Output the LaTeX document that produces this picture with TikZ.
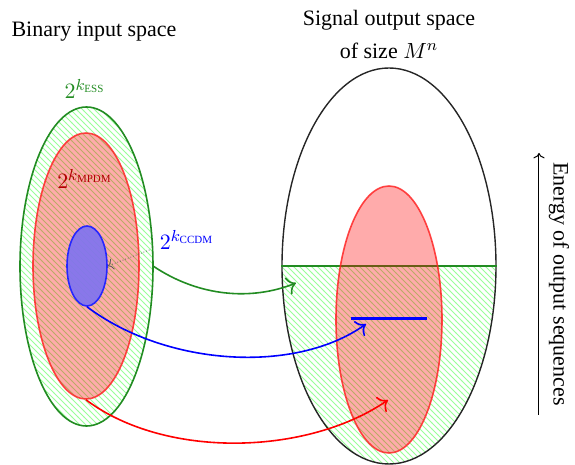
\documentclass[tikz,border=0pt]{standalone}
\usepackage{fontspec}
\setmainfont{Liberation Serif}
\usetikzlibrary{shapes.geometric,patterns,arrows.meta}
\definecolor{essgreen}{RGB}{34,140,34}
\definecolor{ccdmfill}{RGB}{128,116,240}
\begin{document}
\begin{tikzpicture}[x=0.5pt,y=-0.5pt,
  font=\fontsize{11}{13.5}\selectfont,
  hatch/.style={pattern=north west lines, pattern color=green!40},
  essbox/.style={ellipse, inner sep=0pt, draw=essgreen, line width=0.8pt, hatch},
  mpdmbox/.style={ellipse, inner sep=0pt, draw=red!85, line width=0.8pt, fill=red, fill opacity=0.33, draw opacity=0.85},
  ccdmbox/.style={ellipse, inner sep=0pt, draw=blue!85, line width=0.8pt, fill=ccdmfill, fill opacity=0.92},
  mapline/.style={line width=0.8pt, -{To[scale=1.3]}},
  lab/.style={inner sep=1pt}]
\useasboundingbox (0,0) rectangle (575,465);

% titles
\node (tin) at (94,32) {Binary input space};
\node[align=center] (tout) at (389,34) {Signal output space\\[3pt] of size $M^n$};

% left side
\node[essbox, minimum width=66.5pt, minimum height=159.5pt] (essL) at (86.5,266.5) {};
\node[mpdmbox, minimum width=53pt, minimum height=133pt] (mpdmL) at (86,266) {};
\node[ccdmbox, minimum width=20pt, minimum height=40pt] (ccdmL) at (87,266) {};

\node[lab, text=essgreen] (essLab) at (85,89) {$2^{k_{\mathrm{ESS}}}$};
\node[lab, text=red!70!black] (mpdmLab) at (85,179) {$2^{k_{\mathrm{MPDM}}}$};
\node[lab, text=blue] (ccdmLab) at (187,240) {$2^{k_{\mathrm{CCDM}}}$};
\draw[densely dotted, gray!70!black, -{To[scale=1.1]}] ([xshift=-4pt,yshift=1pt]ccdmLab.south west) -- (ccdmL.east);

% right side
\begin{scope}
  \clip (280,266) rectangle (500,470);
  \fill[hatch] (389,266) ellipse [x radius=107, y radius=198];
\end{scope}
\node[ellipse, inner sep=0pt, draw=black!85, line width=0.7pt, minimum width=107pt, minimum height=198pt] (out) at (389,266) {};
\draw[essgreen, line width=0.8pt] (out.west) -- (out.east);
\node[mpdmbox, minimum width=53pt, minimum height=133.5pt] (mpdmR) at (389,319.5) {};
\coordinate (barL) at (351,319);
\coordinate (barR) at (427,319);
\draw[blue, line width=1.5pt] (barL) -- (barR);

% mapping arrows
\coordinate (gT) at (296,283);
\coordinate (bT) at (366,324);
\coordinate (rT) at (388,400);
\draw[mapline, essgreen] (essL.east) .. controls +(45,30) and +(-45,18) .. (gT);
\draw[mapline, blue] (ccdmL.south) .. controls +(80,60) and +(-70,50) .. (bT);
\draw[mapline, red] (mpdmL.south) .. controls +(80,60) and +(-80,55) .. (rT);

% energy axis
\coordinate (eB) at (539,415);
\coordinate (eT) at (539,153);
\draw[->, line width=0.5pt] (eB) -- (eT);
\node[rotate=-90] (elab) at (559,284) {Energy of output sequences};
\end{tikzpicture}
\end{document}
